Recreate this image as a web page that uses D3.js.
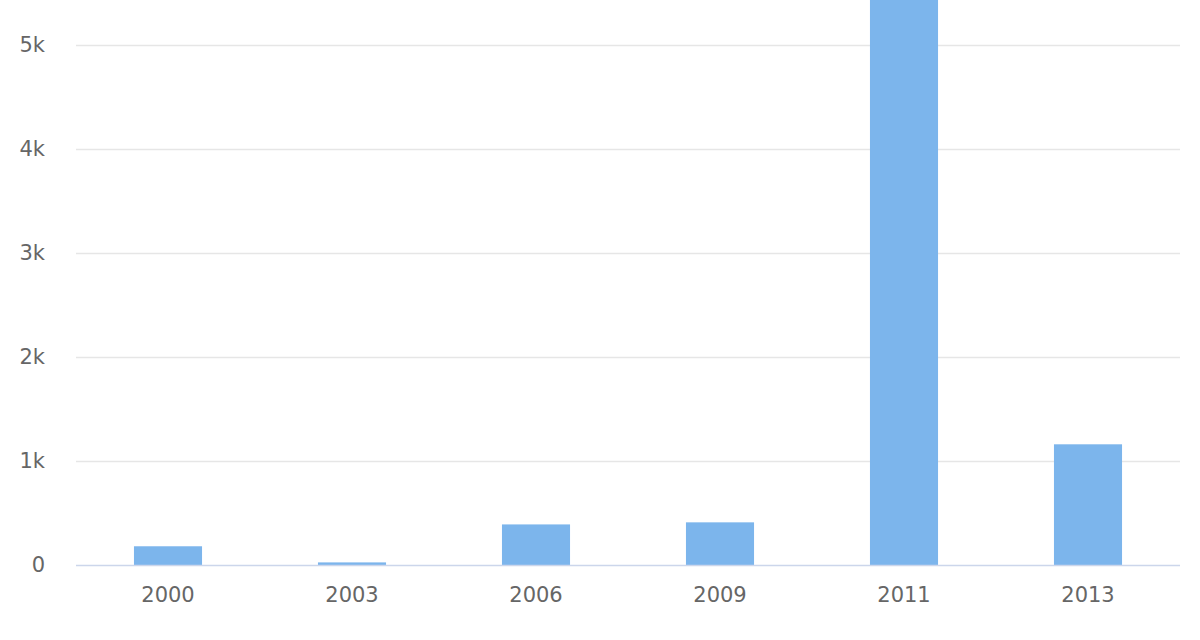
<!DOCTYPE html>
<html><head><meta charset="utf-8">
<script src="https://cdn.jsdelivr.net/npm/d3@7"></script>
<style>body{margin:0;background:#fff}svg{display:block}text{font-family:"DejaVu Sans",sans-serif}</style>
</head><body><svg id="c" width="1200" height="640"></svg>
<script>
const categories = ["2000","2003","2006","2009","2011","2013"];
const values = [180, 25, 390, 410, 5800, 1160];
const yTicks = [0,1000,2000,3000,4000,5000];
const yTickLabels = ["0","1k","2k","3k","4k","5k"];

const W=1200,H=640, m={l:76,r:20,t:0,b:75};
const svg=d3.select("#c");
const x=d3.scaleBand().domain(categories).range([m.l,W-m.r]).padding(0);
const y=d3.scaleLinear().domain([0,5430]).range([H-m.b,m.t]);
const bw=x.bandwidth()*0.37;

svg.append("defs").append("clipPath").attr("id","clip")
  .append("rect").attr("x",m.l).attr("y",m.t).attr("width",W-m.l-m.r).attr("height",H-m.b-m.t);

const g=svg.append("g");
g.selectAll(".grid").data(yTicks.filter(t=>t>0)).join("line")
  .attr("x1",m.l).attr("x2",W-m.r).attr("y1",d=>Math.round(y(d))+0.5).attr("y2",d=>Math.round(y(d))+0.5)
  .attr("stroke","#e6e6e6").attr("stroke-width",1.5);

g.append("g").attr("clip-path","url(#clip)").selectAll("rect").data(values).join("rect")
  .attr("x",(d,i)=>x(categories[i])+(x.bandwidth()-bw)/2)
  .attr("width",bw)
  .attr("y",d=>y(d)).attr("height",d=>y(0)-y(d))
  .attr("fill","#7cb5ec");

g.append("line").attr("x1",m.l).attr("x2",W-m.r).attr("y1",y(0)+0.5).attr("y2",y(0)+0.5)
  .attr("stroke","#ccd6eb").attr("stroke-width",1.5);

g.selectAll(".yl").data(yTicks).join("text")
  .attr("x",45).attr("y",d=>y(d)).attr("dy","0.35em").attr("text-anchor","end")
  .attr("font-size",21).attr("fill","#666").text((d,i)=>yTickLabels[i]);

g.selectAll(".xl").data(categories).join("text")
  .attr("x",d=>x(d)+x.bandwidth()/2).attr("y",602).attr("text-anchor","middle")
  .attr("font-size",21).attr("fill","#666").text(d=>d);
</script></body></html>
